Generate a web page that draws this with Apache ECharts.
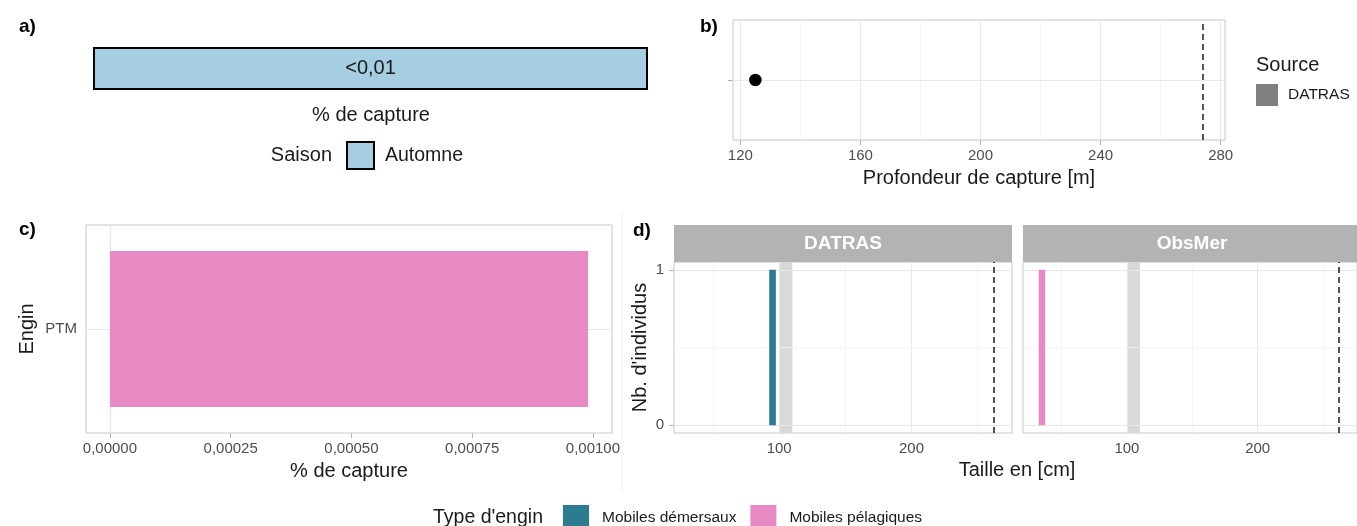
<!DOCTYPE html>
<html>
<head>
<meta charset="utf-8">
<script src="https://cdn.jsdelivr.net/npm/echarts@6/dist/echarts.min.js"></script>
<style>
  html, body { margin: 0; padding: 0; background: #ffffff; }
  #chart { width: 1357px; height: 526px; }
</style>
</head>
<body>
<div id="chart"></div>
<script>
// ---- Data ----
const seasonNames = ['Automne'];
const seasonShare = [100];
const seasonLabels = ['<0,01'];

const depthSource = 'DATRAS';
const depthValues = [125];
const depthLimit = [274];
const depthTicks = [120, 160, 200, 240, 280];
const depthMinor = [140, 180, 220, 260];

const gearCategories = ['PTM'];
const gearCapture = [0.00099];
const gearTicks = [0, 0.00025, 0.0005, 0.00075, 0.001];
const gearMinor = [0.000125, 0.000375, 0.000625, 0.000875];

const facetNames = ['DATRAS', 'ObsMer'];
const gearTypes = ['Mobiles démersaux', 'Mobiles pélagiques'];
const datrasLengths = [95];
const datrasCounts = [1];
const obsmerLengths = [35];
const obsmerCounts = [1];
const binWidth = 5;
const maturityRange = [100, 110];
const maxLength = [262];
const lengthTicks = [100, 200];
const lengthMinor = [50, 150, 250];
const countTicks = [0, 1];
const countMinor = [0.5];

// ---- Style ----
const FONT = 'Liberation Sans, Arial, Helvetica, sans-serif';
const TICK_COLOR = '#4d4d4d';
const BORDER = '#c8c8c8';
const GRID_MAJOR = '#e8e8e8';
const GRID_MINOR = '#f2f2f2';
const TEAL = '#2c7b8e';
const PINK = '#e78ac3';

function gridLines(xi, yi, xMajor, xMinor, yMajor, yMinor) {
  const d = [];
  (xMinor || []).forEach(v => d.push({ xAxis: v, lineStyle: { color: GRID_MINOR, width: 0.8, type: 'solid' } }));
  (yMinor || []).forEach(v => d.push({ yAxis: v, lineStyle: { color: GRID_MINOR, width: 0.8, type: 'solid' } }));
  (xMajor || []).forEach(v => d.push({ xAxis: v, lineStyle: { color: GRID_MAJOR, width: 1.1, type: 'solid' } }));
  (yMajor || []).forEach(v => d.push({ yAxis: v, lineStyle: { color: GRID_MAJOR, width: 1.1, type: 'solid' } }));
  return {
    type: 'scatter', xAxisIndex: xi, yAxisIndex: yi, data: [], silent: true, z: 1,
    markLine: { silent: true, symbol: ['none', 'none'], label: { show: false }, animation: false, data: d }
  };
}

function axisX(gi, min, max, ticks, opts) {
  return Object.assign({
    type: 'value', gridIndex: gi, min: min, max: max,
    axisLine: { show: false },
    axisTick: { show: true, customValues: ticks, length: 5, lineStyle: { color: '#b3b3b3', width: 1 } },
    axisLabel: { show: true, customValues: ticks, color: TICK_COLOR, fontSize: 15, fontFamily: FONT, margin: 8 },
    splitLine: { show: false }
  }, opts || {});
}

const histRender = function (params, api) {
  const x = api.value(0), y = api.value(1);
  const p1 = api.coord([x - binWidth / 2, y]);
  const p2 = api.coord([x + binWidth / 2, 0]);
  return {
    type: 'rect',
    shape: { x: p1[0], y: p1[1], width: p2[0] - p1[0], height: p2[1] - p1[1] },
    style: { fill: api.visual('color') }
  };
};

const dashedLine = (v) => ({
  silent: true, symbol: ['none', 'none'], label: { show: false }, animation: false,
  lineStyle: { color: '#1a1a1a', width: 1.5, type: [6, 4] },
  data: v.map(x => ({ xAxis: x }))
});

const txt = (x, y, text, size, extra) => ({
  type: 'text', x: x, y: y,
  style: Object.assign({ text: text, fontSize: size, fontFamily: FONT, fill: '#1a1a1a',
    verticalAlign: 'middle', textVerticalAlign: 'middle' }, extra || {})
});

const option = {
  backgroundColor: '#ffffff',
  animation: false,
  textStyle: { fontFamily: FONT },
  grid: [
    { left: 93, top: 47, width: 555, height: 43, show: false },
    { left: 733, top: 20, width: 492, height: 120, show: true, borderColor: BORDER, borderWidth: 1, backgroundColor: 'transparent' },
    { left: 86, top: 225, width: 526, height: 208, show: true, borderColor: BORDER, borderWidth: 1, backgroundColor: 'transparent' },
    { left: 674, top: 262, width: 338, height: 171, show: true, borderColor: BORDER, borderWidth: 1, backgroundColor: 'transparent' },
    { left: 1023, top: 262, width: 338, height: 171, show: true, borderColor: BORDER, borderWidth: 1, backgroundColor: 'transparent' }
  ],
  xAxis: [
    { type: 'value', gridIndex: 0, min: 0, max: 100, show: false },
    axisX(1, 117.55, 281.45, depthTicks, {
      name: 'Profondeur de capture [m]', nameLocation: 'middle', nameGap: 28,
      nameTextStyle: { fontSize: 20, color: '#1a1a1a', fontFamily: FONT }
    }),
    axisX(2, -0.0000495, 0.0010395, gearTicks, {
      name: '% de capture', nameLocation: 'middle', nameGap: 28,
      nameTextStyle: { fontSize: 20, color: '#1a1a1a', fontFamily: FONT },
      axisLabel: { show: true, customValues: gearTicks, color: TICK_COLOR, fontSize: 15, fontFamily: FONT, margin: 8,
        formatter: v => Number(v).toFixed(5).replace('.', ',') }
    }),
    axisX(3, 20.5, 276, lengthTicks),
    axisX(4, 20.5, 276, lengthTicks)
  ],
  yAxis: [
    { type: 'category', gridIndex: 0, data: seasonNames, show: false },
    { type: 'value', gridIndex: 1, min: 0, max: 2,
      axisLine: { show: false }, axisLabel: { show: false }, splitLine: { show: false },
      axisTick: { show: true, customValues: [1], length: 5, lineStyle: { color: '#b3b3b3' } } },
    { type: 'category', gridIndex: 2, data: gearCategories,
      axisLine: { show: false }, splitLine: { show: false },
      axisTick: { show: true, alignWithLabel: true, length: 5, lineStyle: { color: '#b3b3b3' } },
      axisLabel: { color: TICK_COLOR, fontSize: 15, fontFamily: FONT, margin: 9 },
      name: 'Engin', nameLocation: 'middle', nameGap: 49, nameRotate: 90,
      nameTextStyle: { fontSize: 20, color: '#1a1a1a', fontFamily: FONT } },
    { type: 'value', gridIndex: 3, min: -0.05, max: 1.05,
      axisLine: { show: false }, splitLine: { show: false },
      axisTick: { show: true, customValues: countTicks, length: 5, lineStyle: { color: '#b3b3b3' } },
      axisLabel: { show: true, customValues: countTicks, color: TICK_COLOR, fontSize: 15, fontFamily: FONT, margin: 10 },
      name: "Nb. d'individus", nameLocation: 'middle', nameGap: 24, nameRotate: 90,
      nameTextStyle: { fontSize: 20, color: '#1a1a1a', fontFamily: FONT } },
    { type: 'value', gridIndex: 4, min: -0.05, max: 1.05,
      axisLine: { show: false }, splitLine: { show: false }, axisTick: { show: false }, axisLabel: { show: false } }
  ],
  legend: [
    { selectedMode: false, padding: 0, left: 346, top: 141, itemWidth: 27, itemHeight: 27, icon: 'rect',
      textStyle: { fontSize: 19.5, color: '#1a1a1a', fontFamily: FONT, padding: [0, 0, 0, 6] },
      data: [{ name: 'Automne', itemStyle: { color: '#a6cee3', borderColor: '#000', borderWidth: 2, opacity: 1 } }] },
    { selectedMode: false, padding: 0, left: 1256, top: 84, itemWidth: 22, itemHeight: 22, icon: 'rect', orient: 'vertical',
      textStyle: { fontSize: 15.5, color: '#1a1a1a', fontFamily: FONT, padding: [0, 0, 0, 5] },
      data: [{ name: depthSource, itemStyle: { color: '#7f7f7f', borderWidth: 0, opacity: 1 } }] },
    { selectedMode: false, padding: 0, left: 563, top: 505, itemWidth: 26, itemHeight: 26, icon: 'rect', itemGap: 14,
      textStyle: { fontSize: 15.5, color: '#1a1a1a', fontFamily: FONT, padding: [0, 0, 0, 8] },
      data: [{ name: gearTypes[0], itemStyle: { color: TEAL, opacity: 1 } }, { name: gearTypes[1], itemStyle: { color: PINK, opacity: 1 } }] }
  ],
  graphic: [
    txt(19, 27, 'a)', 19, { fontWeight: 'bold', fill: '#000' }),
    txt(700, 27, 'b)', 19, { fontWeight: 'bold', fill: '#000' }),
    txt(19, 230, 'c)', 19, { fontWeight: 'bold', fill: '#000' }),
    txt(633, 231, 'd)', 19, { fontWeight: 'bold', fill: '#000' }),
    txt(371, 115, '% de capture', 20, { align: 'center', textAlign: 'center' }),
    txt(332, 155, 'Saison', 20, { align: 'right', textAlign: 'right' }),
    txt(1256, 65, 'Source', 20),
    txt(433, 518, "Type d'engin", 19.5),
    txt(1017, 470, 'Taille en [cm]', 20, { align: 'center', textAlign: 'center' }),
    { type: 'rect', shape: { x: 674, y: 225, width: 338, height: 37 }, style: { fill: '#b3b3b3' } },
    { type: 'rect', shape: { x: 1023, y: 225, width: 338, height: 37 }, style: { fill: '#b3b3b3' } },
    txt(843, 244, facetNames[0], 19, { fontWeight: 'bold', fill: '#ffffff', align: 'center', textAlign: 'center' }),
    txt(1192, 244, facetNames[1], 19, { fontWeight: 'bold', fill: '#ffffff', align: 'center', textAlign: 'center' }),
    { type: 'line', shape: { x1: 622, y1: 212, x2: 622, y2: 492 }, style: { stroke: '#f0f0f0', lineWidth: 1 } }
  ],
  series: [
    // panel a
    { type: 'bar', name: seasonNames[0], xAxisIndex: 0, yAxisIndex: 0, data: seasonShare, barWidth: '100%',
      itemStyle: { color: '#a6cee3', borderColor: '#000000', borderWidth: 2 },
      label: { show: true, position: 'inside', formatter: p => seasonLabels[p.dataIndex], fontSize: 20, color: '#1a1a1a', fontFamily: FONT } },
    // panel b
    gridLines(1, 1, depthTicks, depthMinor, [1], []),
    { type: 'scatter', name: depthSource, xAxisIndex: 1, yAxisIndex: 1, z: 5,
      data: depthValues.map(v => [v, 1]), symbolSize: 12.5, itemStyle: { color: '#000000', opacity: 1 },
      markLine: dashedLine(depthLimit) },
    // panel c
    gridLines(2, 2, gearTicks, gearMinor, gearCategories, []),
    { type: 'bar', name: gearTypes[1], xAxisIndex: 2, yAxisIndex: 2, data: gearCapture, barWidth: '75%', z: 5,
      itemStyle: { color: PINK } },
    // panel d - DATRAS
    gridLines(3, 3, lengthTicks, lengthMinor, countTicks, countMinor),
    { type: 'scatter', xAxisIndex: 3, yAxisIndex: 3, data: [], silent: true, z: 2,
      markArea: { silent: true, itemStyle: { color: '#d9d9d9', opacity: 1 }, data: [[{ xAxis: maturityRange[0] }, { xAxis: maturityRange[1] }]] } },
    { type: 'custom', name: gearTypes[0], xAxisIndex: 3, yAxisIndex: 3, z: 5,
      data: datrasLengths.map((v, i) => [v, datrasCounts[i]]), encode: { x: 0, y: 1 },
      renderItem: histRender, itemStyle: { color: TEAL }, markLine: dashedLine(maxLength) },
    // panel d - ObsMer
    gridLines(4, 4, lengthTicks, lengthMinor, countTicks, countMinor),
    { type: 'scatter', xAxisIndex: 4, yAxisIndex: 4, data: [], silent: true, z: 2,
      markArea: { silent: true, itemStyle: { color: '#d9d9d9', opacity: 1 }, data: [[{ xAxis: maturityRange[0] }, { xAxis: maturityRange[1] }]] } },
    { type: 'custom', name: gearTypes[1], xAxisIndex: 4, yAxisIndex: 4, z: 5,
      data: obsmerLengths.map((v, i) => [v, obsmerCounts[i]]), encode: { x: 0, y: 1 },
      renderItem: histRender, itemStyle: { color: PINK }, markLine: dashedLine(maxLength) }
  ]
};

const chart = echarts.init(document.getElementById('chart'), null, { renderer: 'canvas' });
chart.setOption(option);
</script>
</body>
</html>
